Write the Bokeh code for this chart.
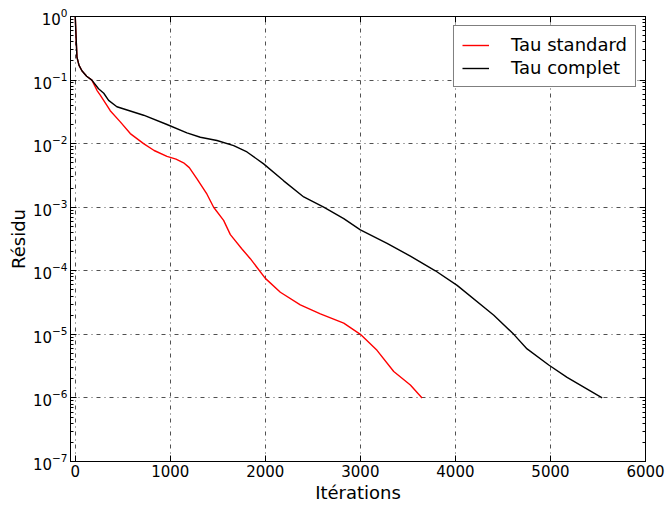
from bokeh.plotting import figure
from bokeh.models import Range1d, LogAxis, LinearAxis, SingleIntervalTicker, LogTicker, Legend, LegendItem
from bokeh.embed import file_html
from bokeh.resources import INLINE

# Data
red_x = [0, 8, 18, 40, 70, 120, 175, 228, 263, 333, 368, 474, 579, 719, 830, 965, 1060, 1140, 1200, 1281,
         1386, 1456, 1561, 1632, 1754, 1842, 2000, 2158, 2368, 2579, 2825, 3000, 3175, 3351, 3526, 3649]
red_y = [1.0, 0.5, 0.23, 0.17, 0.14, 0.115, 0.1, 0.069, 0.058, 0.04, 0.033, 0.022, 0.0144, 0.01, 0.0078,
         0.0063, 0.0057, 0.0050, 0.0042, 0.0028, 0.0016, 0.001, 6.2e-4, 3.7e-4, 2.2e-4, 1.55e-4, 7.6e-5,
         4.6e-5, 2.9e-5, 2.1e-5, 1.5e-5, 1.0e-5, 5.6e-6, 2.6e-6, 1.6e-6, 1.0e-6]

black_x = [0, 8, 18, 40, 70, 120, 175, 245, 300, 351, 438, 719, 965, 1175, 1316, 1491, 1667, 1807, 1982,
           2193, 2404, 2614, 2825, 3000, 3281, 3526, 3789, 4018, 4404, 4614, 4754, 4982, 5175, 5544]
black_y = [1.0, 0.5, 0.23, 0.17, 0.14, 0.115, 0.1, 0.073, 0.062, 0.048, 0.038, 0.028, 0.020, 0.0148,
           0.0126, 0.0112, 0.0093, 0.0074, 0.0048, 0.0026, 0.00145, 0.001, 6.6e-4, 4.4e-4, 2.7e-4, 1.7e-4,
           1e-4, 5.9e-5, 2e-5, 1e-5, 5.9e-6, 3.3e-6, 2.1e-6, 1e-6]

series_labels = ["Tau standard", "Tau complet"]
x_label = "Itérations"
y_label = "Résidu"

FONT = "DejaVu Sans"

p = figure(width=666, height=505, output_backend="svg", toolbar_location=None,
           y_axis_type="log", x_range=Range1d(-50, 6000), y_range=Range1d(1e-7, 1),
           min_border_left=70, min_border_top=16, min_border_right=21, min_border_bottom=44)

p.background_fill_color = "white"
p.border_fill_color = "white"
p.outline_line_color = "black"
p.outline_line_width = 1

r1 = p.line(red_x, red_y, line_color="#ff0000", line_width=1.4)
r2 = p.line(black_x, black_y, line_color="black", line_width=1.4)

xt = SingleIntervalTicker(interval=1000, num_minor_ticks=0)
yt = LogTicker(num_minor_ticks=10, mantissas=[1])

xa = p.xaxis[0]
xa.ticker = xt
ya = p.yaxis[0]
ya.ticker = yt

for ax in (xa, ya):
    ax.axis_line_color = "black"
    ax.major_tick_in = 6
    ax.major_tick_out = 0
    ax.minor_tick_in = 3
    ax.minor_tick_out = 0
    ax.major_tick_line_color = "black"
    ax.minor_tick_line_color = "black"
    ax.major_label_text_font = FONT
    ax.major_label_text_font_size = "15px"
    ax.major_label_text_color = "black"
    ax.axis_label_text_font = FONT
    ax.axis_label_text_font_size = "18px"
    ax.axis_label_text_font_style = "normal"
    ax.axis_label_text_color = "black"

xa.axis_label = x_label
ya.axis_label = y_label
xa.major_label_standoff = 3
xa.axis_label_standoff = 2
ya.major_label_standoff = 3
ya.axis_label_standoff = 1

# mirrored axes (ticks only, labels invisible)
ra = LogAxis(ticker=LogTicker(num_minor_ticks=10, mantissas=[1]))
ta = LinearAxis(ticker=SingleIntervalTicker(interval=1000, num_minor_ticks=0))
for ax in (ra, ta):
    ax.axis_line_color = "black"
    ax.major_tick_in = 6
    ax.major_tick_out = 0
    ax.minor_tick_in = 3
    ax.minor_tick_out = 0
    ax.major_label_text_font_size = "1px"
    ax.major_label_text_color = None
    ax.major_label_standoff = 0
p.add_layout(ra, "right")
p.add_layout(ta, "above")

for g in (p.xgrid[0], p.ygrid[0]):
    g.grid_line_color = "#505050"
    g.grid_line_dash = "4 4 1 4"
    g.grid_line_width = 1
p.xgrid[0].ticker = xt
p.ygrid[0].ticker = yt

legend = Legend(items=[LegendItem(label=series_labels[0], renderers=[r1]),
                       LegendItem(label=series_labels[1], renderers=[r2])],
                location="top_right")
legend.label_text_font = FONT
legend.label_text_font_size = "18px"
legend.label_text_color = "black"
legend.border_line_color = "black"
legend.border_line_width = 1
legend.background_fill_color = "white"
legend.background_fill_alpha = 1
legend.glyph_width = 27
legend.label_standoff = 22
legend.padding = 8
legend.spacing = 2
legend.margin = 9
p.add_layout(legend)

open("out.html", "w").write(file_html(p, INLINE))
